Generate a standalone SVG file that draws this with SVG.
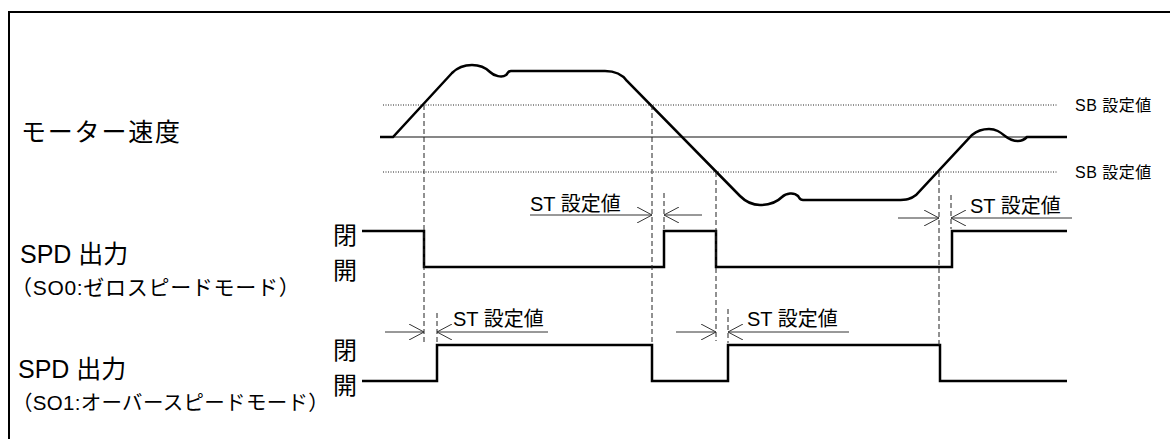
<svg xmlns="http://www.w3.org/2000/svg" width="1170" height="439" viewBox="0 0 1170 439">
<style>
text{font-family:"Liberation Sans","Noto Sans CJK JP",sans-serif;fill:#000}
.wave{fill:none;stroke:#000;stroke-width:2.5;stroke-linejoin:miter}
.thin{fill:none;stroke:#111;stroke-width:1.2}
.dot{fill:none;stroke:#222;stroke-width:1;stroke-dasharray:1 1.5}
.dash{fill:none;stroke:#222;stroke-width:1;stroke-dasharray:5 3}
.dim{fill:none;stroke:#333;stroke-width:1}
.st{font-size:20px}
.sb{font-size:16px;letter-spacing:0.5px}
.oc{font-size:24px}
</style>
<defs>
<marker id="arr" viewBox="0 0 15 16" refX="15" refY="8" markerWidth="15" markerHeight="16" markerUnits="userSpaceOnUse" orient="auto-start-reverse">
<path d="M0,0 L15,8 L0,16" fill="none" stroke="#333" stroke-width="1"/>
</marker>
</defs>
<rect width="1170" height="439" fill="#fff"/>
<path id="frame" d="M9,445 V12 H1175" fill="none" stroke="#000" stroke-width="2"/>

<g id="labels">
<text x="21" y="141" font-size="25" letter-spacing="1.8">モーター速度</text>
<text x="20" y="263" font-size="25">SPD 出力</text>
<text x="11" y="295" font-size="21" letter-spacing="0.7">（SO0:ゼロスピードモード）</text>
<text x="18" y="378" font-size="25">SPD 出力</text>
<text x="12" y="410" font-size="20.5" letter-spacing="0.3">（SO1:オーバースピードモード）</text>
<text class="oc" x="333" y="244">閉</text>
<text class="oc" x="333" y="279">開</text>
<text class="oc" x="333" y="359">閉</text>
<text class="oc" x="333" y="394">開</text>
<text class="sb" x="1075" y="111">SB 設定値</text>
<text class="sb" x="1075" y="178">SB 設定値</text>
</g>

<g id="reference-lines">
<line class="thin" x1="380" y1="137" x2="1067" y2="137"/>
<line class="dot" x1="383" y1="105" x2="1058" y2="105"/>
<line class="dot" x1="383" y1="172" x2="1058" y2="172"/>
</g>

<g id="motor-speed">
<path class="wave" d="M380,137 H393 L452,73 C458,67 465,65 472,65 C481,65 486,68 490,72 C494,76 502,78 506,75 C508,73 508,71 511,71 H605 C615,71 622,74 627,81 L740,196 C746,202 752,205 760,205 C770,205 776,203 782,197 C786,193 794,192 798,196 C800,199 800,200 803,200 H897 C907,200 911,199 916,195 L972,135 C978,130 983,129 989,129 C996,129 1000,132 1005,136 C1010,140 1014,141 1018,141 C1023,141 1025,139 1027,137 H1067"/>
</g>

<g id="spd-so0">
<path class="wave" d="M362,231 H424 V267 H664 V231 H716 V267 H952 V231 H1067"/>
</g>

<g id="spd-so1">
<path class="wave" d="M362,381 H437 V345 H652 V381 H728 V345 H940 V381 H1067"/>
</g>

<g id="connectors">
<line class="dash" x1="424" y1="105" x2="424" y2="342"/>
<line class="dash" x1="437" y1="313" x2="437" y2="343"/>
<line class="dash" x1="652" y1="105" x2="652" y2="345"/>
<line class="dash" x1="664" y1="193" x2="664" y2="229"/>
<line class="dash" x1="716" y1="172" x2="716" y2="341"/>
<line class="dash" x1="728" y1="309" x2="728" y2="343"/>
<line class="dash" x1="939" y1="172" x2="939" y2="345"/>
<line class="dash" x1="951" y1="195" x2="951" y2="229"/>

<line class="dim" x1="530" y1="215" x2="652" y2="215" marker-end="url(#arr)"/>
<line class="dim" x1="664" y1="215" x2="702" y2="215" marker-start="url(#arr)"/>
<line class="dim" x1="898" y1="218" x2="939" y2="218" marker-end="url(#arr)"/>
<line class="dim" x1="951" y1="218" x2="1072" y2="218" marker-start="url(#arr)"/>
<line class="dim" x1="385" y1="332" x2="424" y2="332" marker-end="url(#arr)"/>
<line class="dim" x1="437" y1="332" x2="548" y2="332" marker-start="url(#arr)"/>
<line class="dim" x1="676" y1="332" x2="716" y2="332" marker-end="url(#arr)"/>
<line class="dim" x1="728" y1="332" x2="849" y2="332" marker-start="url(#arr)"/>
</g>

<g id="st-labels">
<text class="st" x="530" y="211">ST 設定値</text>
<text class="st" x="970" y="213">ST 設定値</text>
<text class="st" x="453" y="326">ST 設定値</text>
<text class="st" x="747" y="326">ST 設定値</text>
</g>
</svg>
